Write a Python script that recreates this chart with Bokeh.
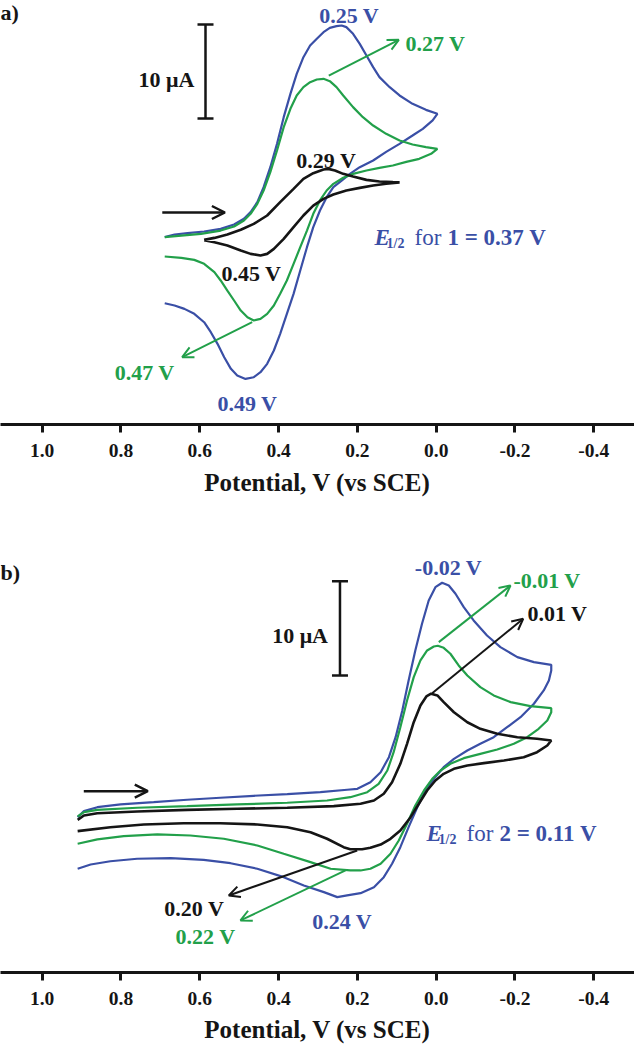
from bokeh.plotting import figure
from bokeh.models import Range1d, Label, Arrow, OpenHead, FixedTicker, PrintfTickFormatter
from bokeh.layouts import column
from bokeh.embed import file_html
from bokeh.resources import INLINE

# ---------------- data (potential in V vs SCE, current in uA, arbitrary zero) -------------
tick_values = [1.0, 0.8, 0.6, 0.4, 0.2, 0.0, -0.2, -0.4]
x_title = "Potential, V (vs SCE)"

# panel a) -- compound 1
a_blue_V = [0.689, 0.664, 0.631, 0.589, 0.547, 0.513, 0.488, 0.471, 0.454, 0.438,
            0.421, 0.404, 0.387, 0.370, 0.354, 0.337, 0.320, 0.303, 0.286, 0.270,
            0.253, 0.240, 0.228, 0.211, 0.194, 0.177, 0.160, 0.144, 0.118, 0.093,
            0.060, 0.026, -0.003,
            0.009, 0.034, 0.060, 0.093, 0.127, 0.160, 0.194, 0.219, 0.240, 0.261,
            0.278, 0.295, 0.312, 0.328, 0.345, 0.362, 0.379, 0.396, 0.412, 0.429,
            0.446, 0.463, 0.484, 0.505, 0.521, 0.538, 0.555, 0.572, 0.589, 0.614,
            0.639, 0.664, 0.689]
a_blue_I = [0.04, 0.32, 0.46, 0.64, 0.92, 1.38, 1.99, 2.70, 3.76, 5.35,
            7.48, 9.96, 12.80, 15.28, 17.41, 19.18, 20.43, 21.14, 21.84, 22.30,
            22.48, 22.55, 22.38, 21.67, 20.60, 19.36, 18.12, 17.06, 15.99, 15.11,
            14.22, 13.58, 13.16,
            12.45, 11.56, 10.85, 9.96, 9.11, 8.19, 7.48, 6.77, 6.06, 5.35,
            4.29, 2.87, 1.10, -1.03, -3.51, -5.99, -8.12, -10.25, -12.02, -13.44,
            -14.33, -14.86, -15.04, -14.68, -13.97, -12.73, -11.31, -10.07, -9.01, -8.12,
            -7.59, -7.23, -6.99]

a_green_V = [0.689, 0.647, 0.597, 0.547, 0.513, 0.488, 0.471, 0.454, 0.438, 0.421,
             0.404, 0.387, 0.370, 0.354, 0.337, 0.320, 0.303, 0.286, 0.270, 0.253,
             0.236, 0.211, 0.186, 0.160, 0.127, 0.093, 0.060, 0.026, -0.003,
             0.013, 0.043, 0.076, 0.110, 0.144, 0.177, 0.211, 0.236, 0.261, 0.278,
             0.295, 0.312, 0.328, 0.345, 0.362, 0.379, 0.396, 0.412, 0.429, 0.446,
             0.463, 0.479, 0.496, 0.513, 0.530, 0.547, 0.563, 0.589, 0.614, 0.647,
             0.689]
a_green_I = [0.04, 0.21, 0.39, 0.74, 1.17, 1.81, 2.52, 3.58, 5.00, 6.95,
             9.26, 11.74, 13.69, 15.11, 15.99, 16.52, 16.81, 16.88, 16.63, 15.99,
             15.11, 13.87, 12.80, 11.91, 11.03, 10.32, 9.89, 9.61, 9.43,
             8.90, 8.37, 8.05, 7.66, 7.41, 7.13, 6.77, 6.35, 5.71, 5.00,
             3.94, 2.52, 0.74, -1.03, -2.80, -4.57, -5.99, -7.23, -8.12, -8.65,
             -8.83, -8.48, -7.77, -6.70, -5.64, -4.57, -3.69, -2.80, -2.38, -2.16,
             -2.02]

a_black_V = [0.589, 0.563, 0.530, 0.496, 0.463, 0.429, 0.396, 0.362, 0.337, 0.312,
             0.286, 0.274, 0.257, 0.236, 0.211, 0.177, 0.144, 0.110, 0.093,
             0.127, 0.160, 0.194, 0.228, 0.261, 0.286, 0.312, 0.337, 0.362, 0.387,
             0.412, 0.429, 0.446, 0.471, 0.496, 0.530, 0.563, 0.589]
a_black_I = [-0.25, -0.04, 0.32, 0.82, 1.45, 2.34, 3.76, 5.18, 6.24, 6.84,
             7.23, 7.30, 7.13, 6.77, 6.49, 6.13, 5.96, 5.89, 5.86,
             5.71, 5.53, 5.28, 5.00, 4.57, 4.11, 3.40, 2.34, 1.10, -0.14,
             -1.21, -1.74, -1.91, -1.74, -1.38, -0.85, -0.50, -0.30]

# panel b) -- compound 2
b_blue_V = [0.910, 0.894, 0.860, 0.801, 0.717, 0.632, 0.548, 0.463, 0.378, 0.294,
            0.226, 0.200, 0.167, 0.141, 0.120, 0.103, 0.086, 0.070, 0.053, 0.036,
            0.019, 0.002, -0.015, -0.032, -0.049, -0.070, -0.095, -0.129, -0.163, -0.206,
            -0.248, -0.292,
            -0.292, -0.286, -0.273, -0.248, -0.214, -0.180, -0.146, -0.112, -0.079, -0.045,
            -0.019, 0.006, 0.027, 0.048, 0.070, 0.091, 0.112, 0.133, 0.158, 0.192,
            0.226, 0.251, 0.285, 0.336, 0.387, 0.454, 0.522, 0.590, 0.674, 0.759,
            0.827, 0.877, 0.910]
b_blue_I = [0.35, 0.99, 1.41, 1.70, 1.94, 2.20, 2.41, 2.62, 2.79, 3.00,
            3.26, 3.36, 4.06, 5.12, 6.71, 8.83, 11.66, 14.85, 18.03, 20.86,
            23.33, 24.74, 25.21, 24.92, 24.04, 22.62, 21.21, 19.62, 18.38, 17.32,
            16.79, 16.51,
            15.91, 14.85, 13.79, 12.38, 10.95, 9.89, 8.83, 8.13, 7.42, 6.54,
            5.65, 4.42, 3.18, 1.41, -0.71, -2.83, -4.59, -6.01, -7.07, -7.71,
            -7.95, -8.13, -7.60, -6.89, -6.01, -5.12, -4.53, -4.17, -4.00, -4.06,
            -4.32, -4.67, -5.12]

b_green_V = [0.910, 0.894, 0.860, 0.759, 0.632, 0.505, 0.378, 0.277, 0.218, 0.175,
             0.146, 0.124, 0.108, 0.091, 0.074, 0.057, 0.040, 0.023, 0.006, -0.004,
             -0.019, -0.036, -0.057, -0.079, -0.112, -0.146, -0.189, -0.239, -0.292,
             -0.292, -0.282, -0.260, -0.231, -0.197, -0.155, -0.112, -0.070, -0.036, -0.011,
             0.010, 0.031, 0.053, 0.074, 0.095, 0.116, 0.141, 0.167, 0.192, 0.218,
             0.268, 0.319, 0.387, 0.454, 0.539, 0.624, 0.708, 0.793, 0.860, 0.910]
b_green_I = [0.42, 0.88, 1.13, 1.35, 1.52, 1.70, 1.88, 2.12, 2.47, 3.00,
             3.89, 5.30, 7.24, 9.89, 12.73, 15.20, 16.97, 18.03, 18.45, 18.53,
             18.31, 17.68, 16.44, 15.38, 14.14, 13.26, 12.55, 12.12, 11.91,
             11.48, 10.60, 9.72, 8.83, 8.13, 7.53, 7.07, 6.61, 6.01, 5.30,
             4.42, 3.18, 1.59, -0.35, -2.12, -3.53, -4.59, -5.12, -5.30, -5.30,
             -5.12, -4.42, -3.53, -2.65, -1.94, -1.59, -1.48, -1.66, -2.01, -2.47]

b_black_V = [0.910, 0.894, 0.860, 0.759, 0.632, 0.505, 0.378, 0.260, 0.192, 0.158,
             0.133, 0.112, 0.091, 0.074, 0.057, 0.040, 0.025, 0.013, -0.003, -0.019,
             -0.045, -0.079, -0.112, -0.155, -0.206, -0.256, -0.292,
             -0.282, -0.256, -0.222, -0.172, -0.121, -0.079, -0.045, -0.019, 0.002, 0.023,
             0.044, 0.065, 0.091, 0.116, 0.141, 0.167, 0.188, 0.218, 0.235, 0.277,
             0.319, 0.378, 0.454, 0.548, 0.641, 0.742, 0.827, 0.910]
b_black_I = [0.07, 0.53, 0.77, 0.95, 1.13, 1.24, 1.35, 1.52, 1.77, 2.12,
             2.83, 4.06, 6.01, 8.13, 10.42, 12.20, 13.15, 13.44, 13.26, 12.55,
             11.48, 10.42, 9.72, 9.19, 8.83, 8.66, 8.48,
             7.95, 7.24, 6.71, 6.36, 6.08, 5.83, 5.48, 4.95, 4.24, 3.18,
             1.77, 0.35, -1.06, -1.94, -2.55, -2.90, -3.05, -3.05, -2.83, -1.94,
             -1.24, -0.71, -0.42, -0.29, -0.29, -0.42, -0.71, -1.13]

# peak potentials labelled on the chart
a_peak_labels = {"blue_c": "0.25 V", "green_c": "0.27 V", "black_c": "0.29 V",
                 "black_a": "0.45 V", "green_a": "0.47 V", "blue_a": "0.49 V"}
b_peak_labels = {"blue_c": "-0.02 V", "green_c": "-0.01 V", "black_c": "0.01 V",
                 "black_a": "0.20 V", "green_a": "0.22 V", "blue_a": "0.24 V"}
scale_uA = 10

# ---------------- styling -------------
BLUE = "#3a4fa6"
GREEN = "#22a04a"
BLACK = "#151515"
FONT = "Liberation Serif"
W = 634
X_LEFT, X_RIGHT = 1.1058, -0.5033


def make_fig(height, yr, bottom, title_standoff):
    p = figure(width=W, height=height, x_range=Range1d(X_LEFT, X_RIGHT), y_range=Range1d(*yr),
               y_axis_location=None, output_backend="svg", toolbar_location=None,
               min_border_left=0, min_border_right=0, min_border_top=0, min_border_bottom=bottom)
    p.grid.visible = False
    p.outline_line_color = None
    ax = p.xaxis[0]
    ax.ticker = FixedTicker(ticks=tick_values)
    ax.formatter = PrintfTickFormatter(format="%.1f")
    ax.axis_line_width = 3
    ax.axis_line_color = BLACK
    ax.major_tick_line_width = 3
    ax.major_tick_line_color = BLACK
    ax.major_tick_out = 8
    ax.major_tick_in = 0
    ax.minor_tick_line_color = None
    ax.major_label_text_font = FONT
    ax.major_label_text_font_size = "19.5px"
    ax.major_label_text_font_style = "bold"
    ax.major_label_text_color = BLACK
    ax.major_label_standoff = 11
    ax.axis_label = x_title
    ax.axis_label_text_font = FONT
    ax.axis_label_text_font_size = "25px"
    ax.axis_label_text_font_style = "bold"
    ax.axis_label_text_color = BLACK
    ax.axis_label_standoff = title_standoff
    return p


def txt(p, x, y, s, color, align="center", size="22px", style="bold", xo=0, yo=0):
    p.add_layout(Label(x=x, y=y, text=s, text_font=FONT, text_font_size=size,
                       text_font_style=style, text_color=color, text_align=align,
                       text_baseline="alphabetic", x_offset=xo, y_offset=yo))


def arrow(p, x0, y0, x1, y1, color, lw=2, size=11):
    p.add_layout(Arrow(end=OpenHead(size=size, line_color=color, line_width=lw),
                       x_start=x0, y_start=y0, x_end=x1, y_end=y1,
                       line_color=color, line_width=lw))


def scale_bar(p, x, y0):
    cap = 8 / 394
    p.segment(x0=[x, x - cap, x - cap], y0=[y0, y0, y0 + scale_uA],
              x1=[x, x + cap, x + cap], y1=[y0 + scale_uA, y0, y0 + scale_uA],
              line_color=BLACK, line_width=2.5)


def e_half(p, x, y, num, val):
    txt(p, x, y, "E", BLUE, align="left", size="23px", style="bold italic")
    txt(p, x, y, "1/2", BLUE, align="left", size="14px", xo=12, yo=-6)
    txt(p, x, y, "for", BLUE, align="left", size="23px", style="normal", xo=40)
    txt(p, x, y, num + " = " + val, BLUE, align="left", size="23px", xo=73)


# ---------------- panel a -------------
pa = make_fig(540, (-19.89, 25.21), 116, 9)
pa.line(a_blue_V, a_blue_I, line_color=BLUE, line_width=2.2)
pa.line(a_green_V, a_green_I, line_color=GREEN, line_width=2.2)
pa.line(a_black_V, a_black_I, line_color=BLACK, line_width=2.6)
scale_bar(pa, 0.5855, 12.66)
txt(pa, 0.6135, 16.81, "10 \u03bcA", BLACK, align="right")
txt(pa, X_LEFT, 23.94, "a)", BLACK, align="left")
txt(pa, 0.221, 23.6, a_peak_labels["blue_c"], BLUE)
txt(pa, 0.078, 20.6, a_peak_labels["green_c"], GREEN, align="left")
txt(pa, 0.279, 8.19, a_peak_labels["black_c"], BLACK)
txt(pa, 0.469, -3.83, a_peak_labels["black_a"], BLACK)
txt(pa, 0.740, -14.33, a_peak_labels["green_a"], GREEN)
txt(pa, 0.479, -17.66, a_peak_labels["blue_a"], BLUE)
e_half(pa, 0.1566, 0.03, "1", "0.37 V")
arrow(pa, 0.6952, 2.66, 0.5363, 2.66, BLACK, lw=2.5, size=13)
arrow(pa, 0.2726, 17.23, 0.0949, 21.03, GREEN)
arrow(pa, 0.467, -9.01, 0.6447, -12.73, GREEN)

# ---------------- panel b -------------
pb = make_fig(510, (-16.12, 29.69), 78, 8)
pb.line(b_blue_V, b_blue_I, line_color=BLUE, line_width=2.2)
pb.line(b_green_V, b_green_I, line_color=GREEN, line_width=2.2)
pb.line(b_black_V, b_black_I, line_color=BLACK, line_width=2.6)
scale_bar(pb, 0.2442, 15.38)
txt(pb, 0.2746, 19.62, "10 \u03bcA", BLACK, align="right")
txt(pb, X_LEFT, 26.33, "b)", BLACK, align="left")
txt(pb, -0.031, 26.83, b_peak_labels["blue_c"], BLUE)
txt(pb, -0.196, 25.45, b_peak_labels["green_c"], GREEN, align="left")
txt(pb, -0.2317, 21.92, b_peak_labels["black_c"], BLACK, align="left")
txt(pb, 0.614, -9.36, b_peak_labels["black_a"], BLACK)
txt(pb, 0.5855, -12.30, b_peak_labels["green_a"], GREEN)
txt(pb, 0.2386, -10.68, b_peak_labels["blue_a"], BLUE)
e_half(pb, 0.0246, -1.41, "2", "0.11 V")
arrow(pb, 0.8944, 3.11, 0.7320, 3.11, BLACK, lw=2.5, size=13)
arrow(pb, -0.0066, 18.91, -0.1886, 24.92, GREEN)
arrow(pb, 0.0102, 13.50, -0.2208, 21.39, BLACK)
arrow(pb, 0.2005, -3.18, 0.5264, -7.95, BLACK)
arrow(pb, 0.2302, -5.30, 0.4967, -10.60, GREEN)

layout = column(pa, pb, spacing=0)
open("out.html", "w").write(file_html(layout, INLINE))
